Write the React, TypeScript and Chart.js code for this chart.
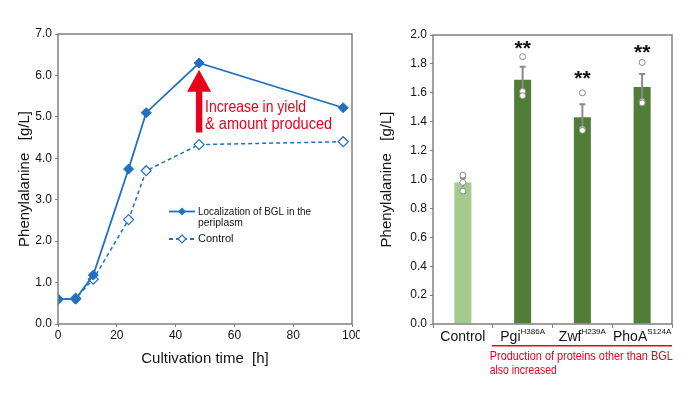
import { useEffect, useRef } from "react";
import { Chart, registerables } from "chart.js";
Chart.register(...registerables);

const FONT = "'Liberation Sans', Arial, sans-serif";

// Left chart data
const timeH = [0, 6, 12, 24, 30, 48, 97];
const bglPeriplasm = [0.6, 0.6, 1.18, 3.74, 5.1, 6.3, 5.22];
const controlSeries = [0.6, 0.62, 1.08, 2.52, 3.7, 4.33, 4.4];
const seriesNames = ["Localization of BGL in the", "periplasm", "Control"];
const arrowText = ["Increase in yield", "& amount produced"];
const arrowAt = { x: 48, from: 4.62, to: 6.14 };

// Right chart data
const strains = ["Control", "Pgi", "Zwf", "PhoA"];
const strainSup = ["", "H386A", "H239A", "S124A"];
const meanPhe = [0.98, 1.69, 1.43, 1.64];
const sdPhe = [0.03, 0.09, 0.09, 0.09];
const rep1 = [1.03, 1.85, 1.6, 1.81];
const rep2 = [0.98, 1.61, 1.35, 1.54];
const rep3 = [0.92, 1.58, 1.34, 1.53];
const sigMark = ["", "**", "**", "**"];
const sigLevel = [0, 1.93, 1.72, 1.9];
const noteText = ["Production of proteins other than BGL", "also increased"];

const BLUE = "#2170c0";
const RED = "#e8001c";
const AXIS = "#808080";

const framePlugin = {
  id: "frame",
  afterDraw(chart: any) {
    const { ctx, chartArea: a } = chart;
    ctx.save();
    ctx.strokeStyle = AXIS;
    ctx.lineWidth = 1.5;
    ctx.strokeRect(a.left, a.top, a.right - a.left, a.bottom - a.top);
    ctx.restore();
  },
};

const leftExtras = {
  id: "leftExtras",
  afterDraw(chart: any) {
    const { ctx } = chart;
    const xs = chart.scales.x;
    const ys = chart.scales.y;
    // arrow
    const ax = xs.getPixelForValue(arrowAt.x);
    const yTip = ys.getPixelForValue(arrowAt.to);
    const yBot = ys.getPixelForValue(arrowAt.from);
    const headH = 22, headW = 12, shaftW = 3.2;
    ctx.save();
    ctx.fillStyle = RED;
    ctx.beginPath();
    ctx.moveTo(ax, yTip);
    ctx.lineTo(ax + headW, yTip + headH);
    ctx.lineTo(ax + shaftW, yTip + headH);
    ctx.lineTo(ax + shaftW, yBot);
    ctx.lineTo(ax - shaftW, yBot);
    ctx.lineTo(ax - shaftW, yTip + headH);
    ctx.lineTo(ax - headW, yTip + headH);
    ctx.closePath();
    ctx.fill();
    ctx.font = `16px ${FONT}`;
    ctx.textBaseline = "middle";
    ctx.textAlign = "left";
    ctx.fillText(arrowText[0], ax + 6, 108, 101);
    ctx.fillText(arrowText[1], ax + 6, 125, 127);
    ctx.restore();

    // legend
    ctx.save();
    const lx0 = 169, lx1 = 195;
    const rows = [211.5, 239];
    ctx.lineWidth = 1.8;
    ctx.strokeStyle = BLUE;
    ctx.beginPath();
    ctx.moveTo(lx0, rows[0]);
    ctx.lineTo(lx1, rows[0]);
    ctx.stroke();
    ctx.setLineDash([4, 3]);
    ctx.beginPath();
    ctx.moveTo(lx0, rows[1]);
    ctx.lineTo(lx1, rows[1]);
    ctx.stroke();
    ctx.setLineDash([]);
    const mx = (lx0 + lx1) / 2;
    const d = 4;
    ctx.fillStyle = BLUE;
    ctx.beginPath();
    ctx.moveTo(mx, rows[0] - d); ctx.lineTo(mx + d, rows[0]); ctx.lineTo(mx, rows[0] + d); ctx.lineTo(mx - d, rows[0]); ctx.closePath();
    ctx.fill();
    ctx.fillStyle = "#fff";
    ctx.lineWidth = 1.2;
    ctx.beginPath();
    ctx.moveTo(mx, rows[1] - d); ctx.lineTo(mx + d, rows[1]); ctx.lineTo(mx, rows[1] + d); ctx.lineTo(mx - d, rows[1]); ctx.closePath();
    ctx.fill(); ctx.stroke();
    ctx.fillStyle = "#111";
    ctx.font = `11px ${FONT}`;
    ctx.textBaseline = "middle";
    ctx.fillText(seriesNames[0], 198, rows[0], 113);
    ctx.fillText(seriesNames[1], 198, rows[0] + 11, 45);
    ctx.fillText(seriesNames[2], 198, rows[1], 37);
    ctx.restore();
  },
};

const rightExtras = {
  id: "rightExtras",
  afterDatasetsDraw(chart: any) {
    const { ctx } = chart;
    const xs = chart.scales.x;
    const ys = chart.scales.y;
    ctx.save();
    strains.forEach((_, i) => {
      const x = xs.getPixelForValue(i);
      const yTop = ys.getPixelForValue(meanPhe[i] + sdPhe[i]);
      const yLow = ys.getPixelForValue(meanPhe[i] - sdPhe[i]);
      ctx.strokeStyle = "#8a8a8a";
      ctx.lineWidth = 2;
      ctx.beginPath();
      ctx.moveTo(x, yLow);
      ctx.lineTo(x, yTop);
      ctx.moveTo(x - 3, yTop);
      ctx.lineTo(x + 3, yTop);
      ctx.stroke();
      [rep1[i], rep2[i], rep3[i]].forEach((v) => {
        const y = ys.getPixelForValue(v);
        ctx.beginPath();
        ctx.arc(x, y, 3, 0, Math.PI * 2);
        ctx.fillStyle = "#fff";
        ctx.fill();
        ctx.lineWidth = 1;
        ctx.strokeStyle = "#888";
        ctx.stroke();
      });
      if (sigMark[i]) {
        ctx.fillStyle = "#111";
        ctx.font = `bold 21px ${FONT}`;
        ctx.textAlign = "center";
        ctx.textBaseline = "alphabetic";
        ctx.fillText(sigMark[i], x, ys.getPixelForValue(sigLevel[i]) + 9.5);
      }
    });
    ctx.restore();
  },
  afterDraw(chart: any) {
    const { ctx, chartArea: a } = chart;
    const xs = chart.scales.x;
    ctx.save();
    ctx.textBaseline = "middle";
    strains.forEach((s, i) => {
      const x = xs.getPixelForValue(i);
      ctx.font = `14px ${FONT}`;
      const w1 = ctx.measureText(s).width;
      ctx.font = `8px ${FONT}`;
      const w2 = strainSup[i] ? ctx.measureText(strainSup[i]).width : 0;
      const start = x - (w1 + w2) / 2;
      ctx.fillStyle = "#111";
      ctx.textAlign = "left";
      ctx.font = `14px ${FONT}`;
      ctx.fillText(s, start, 337);
      if (strainSup[i]) {
        ctx.font = `8px ${FONT}`;
        ctx.fillText(strainSup[i], start + w1, 332);
      }
    });
    const cw = (a.right - a.left) / strains.length;
    const lineStart = xs.getPixelForValue(1) - cw / 2 - 1;
    ctx.strokeStyle = RED;
    ctx.lineWidth = 1.5;
    ctx.beginPath();
    ctx.moveTo(lineStart, 345.7);
    ctx.lineTo(a.right, 345.7);
    ctx.stroke();
    ctx.fillStyle = RED;
    ctx.font = `13px ${FONT}`;
    ctx.fillText(noteText[0], lineStart - 2, 356, 183);
    ctx.fillText(noteText[1], lineStart - 2, 370.5, 67);
    ctx.restore();
  },
};

function LeftChart() {
  const ref = useRef<HTMLCanvasElement>(null);
  useEffect(() => {
    const chart = new Chart(ref.current as HTMLCanvasElement, {
      type: "line",
      data: {
        datasets: [
          {
            data: timeH.map((x, i) => ({ x, y: bglPeriplasm[i] })),
            borderColor: BLUE,
            backgroundColor: BLUE,
            borderWidth: 1.8,
            pointStyle: "rectRot",
            pointRadius: 5,
            pointBorderWidth: 1,
            tension: 0,
          },
          {
            data: timeH.map((x, i) => ({ x, y: controlSeries[i] })),
            borderColor: BLUE,
            backgroundColor: "#fff",
            borderWidth: 1.5,
            borderDash: [4, 3],
            pointStyle: "rectRot",
            pointRadius: 5,
            pointBorderWidth: 1.2,
            tension: 0,
          },
        ],
      } as any,
      options: {
        animation: false,
        responsive: false,
        maintainAspectRatio: false,
        layout: { padding: { top: 34, right: 8, left: 0, bottom: 0 } },
        plugins: { legend: { display: false }, tooltip: { enabled: false } },
        scales: {
          x: {
            type: "linear",
            min: 0,
            max: 100,
            ticks: { stepSize: 20, color: "#111", font: { size: 12, family: FONT }, padding: 1, maxRotation: 0 },
            grid: { display: true, drawOnChartArea: false, drawTicks: true, tickLength: 3, color: AXIS },
            border: { display: false },
            title: { display: true, text: "Cultivation time  [h]", color: "#111", font: { size: 15, family: FONT }, padding: { top: 0, bottom: 30 } },
            afterFit: (s: any) => { s.height = 74; s.paddingLeft = 0; s.paddingRight = 0; },
          },
          y: {
            min: 0,
            max: 7,
            ticks: { stepSize: 1, color: "#111", font: { size: 12, family: FONT }, padding: 3, callback: (v: any) => Number(v).toFixed(1) },
            grid: { display: true, drawOnChartArea: false, drawTicks: true, tickLength: 3, color: AXIS },
            border: { display: false },
            title: { display: true, text: "Phenylalanine   [g/L]", color: "#111", font: { size: 15, family: FONT }, padding: { top: 16, bottom: 0 } },
            afterFit: (s: any) => { s.width = 58; s.paddingTop = 0; s.paddingBottom = 0; },
          },
        },
      } as any,
      plugins: [framePlugin, leftExtras],
    });
    return () => chart.destroy();
  }, []);
  return <canvas ref={ref} width={360} height={398} style={{ position: "absolute", left: 0, top: 0, width: 360, height: 398 }} />;
}

function RightChart() {
  const ref = useRef<HTMLCanvasElement>(null);
  useEffect(() => {
    const chart = new Chart(ref.current as HTMLCanvasElement, {
      type: "bar",
      data: {
        labels: strains,
        datasets: [
          {
            data: meanPhe,
            backgroundColor: ["#a4cb8c", "#517e37", "#517e37", "#517e37"],
            borderWidth: 0,
            barPercentage: 0.285,
            categoryPercentage: 1,
          },
        ],
      },
      options: {
        animation: false,
        responsive: false,
        maintainAspectRatio: false,
        layout: { padding: { top: 35, right: 26, left: 0, bottom: 0 } },
        plugins: { legend: { display: false }, tooltip: { enabled: false } },
        scales: {
          x: {
            ticks: { color: "rgba(0,0,0,0)", font: { size: 12, family: FONT } },
            grid: { display: true, offset: true, drawOnChartArea: false, drawTicks: true, tickLength: 4, color: AXIS },
            border: { display: false },
            afterFit: (s: any) => { s.height = 74; s.paddingLeft = 0; s.paddingRight = 0; },
          },
          y: {
            min: 0,
            max: 2,
            ticks: { stepSize: 0.2, color: "#111", font: { size: 12, family: FONT }, padding: 3, callback: (v: any) => Number(v).toFixed(1) },
            grid: { display: true, drawOnChartArea: false, drawTicks: true, tickLength: 3, color: AXIS },
            border: { display: false },
            title: { display: true, text: "Phenylalanine   [g/L]", color: "#111", font: { size: 15, family: FONT }, padding: { top: 18, bottom: 0 } },
            afterFit: (s: any) => { s.width = 73; s.paddingTop = 0; s.paddingBottom = 0; },
          },
        },
      } as any,
      plugins: [framePlugin, rightExtras],
    });
    return () => chart.destroy();
  }, []);
  return <canvas ref={ref} width={338} height={398} style={{ position: "absolute", left: 360, top: 0, width: 338, height: 398 }} />;
}

export default function App() {
  return (
    <div style={{ position: "absolute", left: 0, top: 0, width: 698, height: 398, background: "#fff", overflow: "hidden" }}>
      <LeftChart />
      <RightChart />
    </div>
  );
}
